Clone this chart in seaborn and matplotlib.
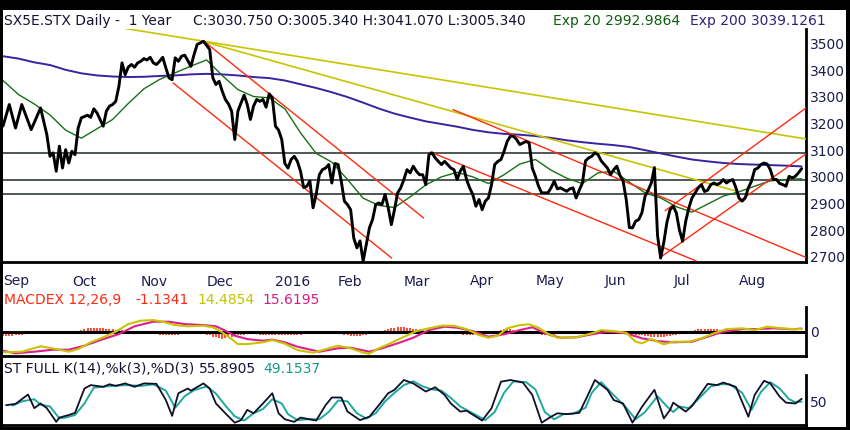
import matplotlib
matplotlib.use("Agg")
import numpy as np
import pandas as pd
import matplotlib.pyplot as plt
import seaborn as sns
from matplotlib.patches import Rectangle

# ------------------------------------------------------------------ data
first_day = "2015-09-01"
last_day = "2016-08-29"
exchange_holidays = ["2015-12-25", "2016-01-01", "2016-03-25", "2016-03-28"]
month_labels = ["Sep", "Oct", "Nov", "Dec", "2016", "Feb", "Mar", "Apr",
                "May", "Jun", "Jul", "Aug"]

# daily close (trading-day index, value)
price_day = [0, 2, 4, 6, 9, 12, 14, 15, 16, 17, 18, 19, 20, 21, 22, 23, 24, 25,
             27, 28, 29, 30, 32, 33, 34, 35, 36, 37, 38, 39, 40, 41, 42, 43, 44,
             45, 46, 47, 48, 49, 50, 51, 52, 53, 54, 55, 56, 57, 58, 59, 60, 61,
             62, 63, 64, 65, 66, 67, 68, 69, 70, 71, 72, 73, 74, 75, 76, 77, 78,
             79, 80, 81, 82, 83, 84, 85, 86, 87, 88, 89] + list(range(90, 256))
price_close = [3190, 3271, 3183, 3271, 3177, 3258, 3158, 3077, 3090, 3021, 3115,
               3033, 3102, 3052, 3096, 3083, 3183, 3221, 3231, 3223, 3255, 3240,
               3190, 3246, 3265, 3271, 3283, 3339, 3427, 3383, 3411, 3421, 3411,
               3427, 3433, 3443, 3438, 3448, 3427, 3421, 3433, 3448, 3408, 3371,
               3364, 3446, 3433, 3452, 3456, 3436, 3414, 3458, 3496, 3502, 3508,
               3493, 3477, 3371, 3346, 3358, 3321, 3290, 3273, 3246, 3140, 3246,
               3277, 3306, 3271, 3215, 3265, 3290, 3283, 3290, 3261, 3311, 3296,
               3190, 3175, 3140,
               3050, 3033, 3065, 3077, 3058, 3021, 2960, 2965, 2984, 2884,
               2934, 3008, 3027, 3033, 3046, 2977, 3050, 3046, 2984, 2909,
               2896, 2877, 2771, 2734, 2760, 2684, 2746, 2809, 2840, 2896,
               2902, 2896, 2934, 2884, 2821, 2877, 2940, 2959, 2990, 3027,
               3015, 3040, 3021, 3008, 3008, 2971, 3083, 3090, 3071, 3058,
               3046, 3058, 3046, 3033, 3027, 2990, 3021, 3040, 2990, 2959,
               2934, 2890, 2915, 2877, 2909, 2921, 2971, 3046, 3058, 3065,
               3096, 3133, 3152, 3152, 3140, 3121, 3127, 3133, 3127, 3033,
               3002, 2965, 2940, 2940, 2940, 2959, 2984, 2955, 2959, 2952,
               2946, 2955, 2959, 2921, 2950, 2977, 3060, 3071, 3077, 3090,
               3083, 3060, 3046, 3033, 3008, 3027, 3040, 3005, 2984, 2915,
               2810, 2809, 2834, 2840, 2865, 2927, 2950, 2977, 3035, 2780,
               2696, 2755, 2830, 2877, 2890, 2865, 2800, 2759, 2834, 2884,
               2921, 2940, 2959, 2971, 2945, 2950, 2971, 2977, 2971, 2977,
               2990, 2977, 2985, 2990, 2960, 2921, 2909, 2921, 2959, 2984,
               3027, 3033, 3046, 3052, 3048, 3027, 2990, 2990, 2975, 2971,
               2965, 3002, 2996, 3002, 3015, 3030.75]

# moving averages read every 5 trading days
ema_day = list(range(0, 256, 5))
ema20 = [3361, 3308, 3273, 3232, 3175, 3145, 3180, 3215, 3275, 3330,
         3365, 3390, 3415, 3438, 3380, 3327, 3301, 3296, 3255, 3165,
         3088, 3055, 2990, 2920, 2893, 2885, 2925, 2970, 3000, 3017,
         3000, 2975, 3008, 3048, 3065, 3025, 2995, 2975, 3015, 3021,
         2980, 2940, 2921, 2888, 2868, 2898, 2928, 2944, 2965, 2985,
         2990, 2992.99]
ema200 = [3452, 3443, 3429, 3419, 3401, 3388, 3380, 3376, 3374, 3375,
          3378, 3380, 3384, 3386, 3384, 3380, 3374, 3370, 3361, 3347,
          3333, 3317, 3299, 3278, 3256, 3237, 3222, 3208, 3198, 3188,
          3176, 3167, 3161, 3158, 3153, 3146, 3137, 3130, 3124, 3119,
          3112, 3100, 3088, 3076, 3065, 3058, 3052, 3048, 3046, 3044,
          3042, 3039.13]

price_ticks = [2700, 2800, 2900, 3000, 3100, 3200, 3300, 3400, 3500]
level_lines = [3090, 2990, 2935]
# trend lines: (day0, value0, day1, value1)
yellow_trends = [(39.0, 3556, 256.4, 3142), (63.5, 3509, 234.0, 2947)]
red_trends = [(54.3, 3352, 124.1, 2696), (64.5, 3505, 134.3, 2846),
              (143.7, 3252, 256.4, 2698), (136.5, 3093, 221.3, 2685),
              (211.4, 2873, 256.4, 3258), (209.6, 2696, 256.4, 3086)]

# MACD (12,26,9)
macd_day = [0, 6, 12, 17, 21, 24, 28, 32, 36, 40, 44, 48, 51, 55, 59, 64, 67, 70,
            73, 75, 78, 83, 86, 90, 94, 99, 102, 107, 111, 115, 117, 120, 123,
            127, 132, 136, 140, 144, 148, 152, 155, 158, 161, 165, 168, 171, 174,
            177, 183, 188, 191, 195, 199, 202, 204, 207, 211, 214, 219, 223, 227,
            231, 236, 240, 244, 249, 253, 255]
macd_line = [-103, -100, -73, -87, -100, -87, -53, -28, 0, 38,
             55, 58, 50, 33, 27, 30, 22, -3, -37, -62,
             -62, -53, -42, -60, -92, -105, -92, -70, -83, -105,
             -110, -83, -63, -33, 3, 17, 30, 30, 13, -17,
             -30, -20, 17, 33, 37, 20, -10, -30, -28, -8,
             8, 3, -5, -50, -58, -37, -63, -50, -50, -33,
             -8, 13, 17, 8, 25, 17, 12, 14.49]
signal_day = [0, 4, 10, 16, 21, 26, 32, 37, 42, 48, 53, 58, 64, 68, 71, 74, 78,
              83, 86, 90, 94, 101, 107, 111, 117, 121, 126, 131, 136, 141, 145,
              150, 155, 160, 165, 169, 172, 175, 178, 183, 188, 193, 199, 204,
              209, 214, 220, 225, 230, 236, 241, 246, 252, 255]
signal_line = [-95, -108, -100, -90, -90, -70, -37, -12, 27, 50,
               50, 38, 33, 27, 5, -20, -37, -45, -40, -53,
               -75, -100, -83, -80, -100, -83, -58, -30, 8, 25,
               20, 3, -25, -13, 8, 22, 0, -18, -30, -28,
               -13, 0, -8, -33, -47, -53, -50, -25, 0, 13,
               13, 17, 12, 15.62]
macd_hist = [-20, -22, -22, -20, -18, -16, -14, -12, -10, -9, -8, -7,
             -6, -6, -7, -8, -8, -7, -6, -5, -4, -3, -1, 2,
             6, 10, 14, 17, 19, 20, 20, 19, 18, 16, 14, 12,
             10, 9, 8, 6, 4, 2, 0, -2, -4, -6, -8, -10,
             -11, -12, -14, -15, -16, -18, -18, -17, -15, -13, -11, -10,
             -9, -8, -8, -10, -12, -14, -18, -24, -28, -32, -34, -32,
             -28, -24, -20, -18, -16, -14, -12, -12, -12, -13, -14, -15,
             -16, -16, -17, -18, -18, -18, -18, -18, -17, -16, -15, -14,
             -12, -10, -8, -4, 0, 4, 6, 6, 4, 2, -2, -6,
             -10, -14, -18, -20, -22, -22, -20, -18, -14, -10, -6, -2,
             2, 6, 10, 14, 18, 20, 22, 22, 22, 20, 18, 16,
             14, 12, 8, 4, 0, -2, -4, -6, -6, -7, -8, -8,
             -9, -10, -12, -14, -15, -16, -16, -15, -14, -12, -10, -6,
             -2, 2, 6, 10, 12, 12, 12, 10, 8, 6, 4, 2,
             0, -4, -8, -12, -15, -16, -16, -15, -14, -13, -12, -10,
             -9, -8, -6, -4, -2, 0, 2, 4, 5, 6, 6, 5,
             4, 3, 2, 0, -2, -4, -6, -8, -10, -12, -14, -16,
             -18, -20, -22, -24, -26, -26, -26, -24, -22, -20, -18, -14,
             -10, -6, -2, 2, 6, 10, 13, 15, 16, 16, 15, 14,
             12, 10, 8, 5, 2, 0, -2, -4, -5, -6, -6, -6,
             -5, -4, -3, -4, -5, -6, -6, -6, -5, -5, -4, -4,
             -3, -3, -2, -1.1341]

# Full stochastic K(14), %k(3), %D(3)
stoch_k_day = [1, 4, 8, 10, 12, 14, 17, 18, 21, 23, 26, 28, 32, 34, 36, 39, 42,
               45, 49, 52, 54, 56, 59, 60, 64, 66, 68, 71, 74, 76, 78, 80, 83,
               86, 88, 90, 93, 95, 100, 103, 105, 108, 110, 114, 117, 120, 123,
               125, 128, 131, 135, 138, 141, 143, 146, 148, 153, 156, 159, 162,
               166, 169, 172, 175, 177, 180, 184, 186, 189, 193, 195, 198, 201,
               204, 208, 211, 213, 214, 218, 220, 225, 228, 230, 234, 238, 240,
               243, 245, 248, 250, 253, 255]
stoch_k = [41, 44, 66, 34, 45, 34, 2, 12, 18, 23, 80, 88, 84, 90, 86, 92, 84,
           92, 91, 53, 16, 69, 80, 75, 92, 80, 45, 22, 0, 6, 30, 22, 45, 69, 22,
           8, 2, 12, 5, 41, 59, 59, 26, 6, 14, 41, 69, 77, 100, 92, 73, 83, 65,
           45, 26, 28, 5, 34, 96, 100, 94, 65, 0, 14, 22, 20, 23, 53, 100, 77,
           53, 45, 0, 37, 77, 10, 30, 47, 26, 39, 91, 88, 94, 84, 14, 65, 98,
           92, 61, 47, 45, 55.8905]
stoch_d_day = [3, 6, 10, 12, 15, 18, 20, 23, 26, 29, 33, 36, 40, 44, 48, 52, 55,
               58, 61, 65, 68, 71, 74, 77, 80, 83, 86, 89, 91, 94, 97, 101, 104,
               107, 110, 113, 116, 119, 122, 125, 128, 131, 134, 137, 140, 143,
               146, 149, 152, 154, 157, 160, 163, 167, 170, 173, 176, 179, 182,
               186, 188, 191, 194, 197, 199, 202, 205, 209, 212, 214, 216, 219,
               222, 226, 229, 232, 236, 239, 242, 245, 248, 251, 253, 255]
stoch_d = [40, 50, 55, 42, 38, 10, 12, 18, 45, 82, 85, 87, 88, 86, 90, 75, 35,
           62, 76, 85, 68, 40, 15, 5, 22, 32, 55, 45, 20, 6, 8, 8, 25, 52, 50,
           22, 10, 22, 50, 70, 88, 97, 85, 78, 75, 58, 38, 26, 14, 6, 25, 70,
           97, 95, 78, 25, 8, 20, 21, 35, 70, 95, 72, 50, 35, 8, 25, 62, 38, 25,
           38, 34, 55, 85, 90, 90, 70, 30, 72, 95, 80, 55, 48, 49.1537]

# ------------------------------------------------------------------ calendar
sessions = pd.bdate_range(first_day, last_day)
sessions = sessions[~sessions.isin(pd.to_datetime(exchange_holidays))]
month_start = [0] + [i for i in range(1, len(sessions))
                     if sessions[i].month != sessions[i - 1].month]
n_days = len(sessions)

# ------------------------------------------------------------------ style
sns.set_style("white")
plt.rcParams['font.family'] = ['DejaVu Sans']
W, H = 850, 430
LABEL = '#1c1c50'
GREEN = '#167016'
PURPLE = '#3a22a0'
YEL = '#c9c400'
RED = '#ff2a10'
MAG = '#dc1f8c'
TEAL = '#1fa89c'


def fx(x):
    return x / W


def fy(y):
    return 1 - y / H


fig = plt.figure(figsize=(W / 100, H / 100), dpi=100)
fig.patch.set_facecolor('black')
fig.add_artist(Rectangle((fx(3), fy(427)), fx(846) - fx(3), fy(10) - fy(427),
                         transform=fig.transFigure, facecolor='white',
                         edgecolor='none', zorder=0))

XL = (0, 256.4)


def make_ax(top, bottom):
    ax = fig.add_axes([fx(3), fy(bottom), fx(806) - fx(3), fy(top) - fy(bottom)])
    ax.set_facecolor('none')
    for s in ('top', 'left'):
        ax.spines[s].set_visible(False)
    for s in ('right', 'bottom'):
        ax.spines[s].set_visible(True)
        ax.spines[s].set_color('black')
        ax.spines[s].set_linewidth(2.0)
    ax.yaxis.tick_right()
    ax.tick_params(axis='y', length=0, pad=3, labelsize=10, labelcolor=LABEL)
    ax.set_xlim(*XL)
    return ax


# ---------------------------------------------------------------- main panel
ax = make_ax(29, 262)
for lv in level_lines:
    ax.axhline(lv, color='#1e2a22', lw=1.1, zorder=1)
sns.lineplot(x=ema_day, y=ema200, ax=ax, color=PURPLE, lw=1.4,
             estimator=None, sort=False, zorder=2)
sns.lineplot(x=ema_day, y=ema20, ax=ax, color=GREEN, lw=1.0,
             estimator=None, sort=False, zorder=3)
for d0, v0, d1, v1 in yellow_trends:
    sns.lineplot(x=[d0, d1], y=[v0, v1], ax=ax, color=YEL, lw=1.2,
                 estimator=None, sort=False, zorder=4)
for d0, v0, d1, v1 in red_trends:
    sns.lineplot(x=[d0, d1], y=[v0, v1], ax=ax, color=RED, lw=1.0,
                 estimator=None, sort=False, zorder=4)
sns.lineplot(x=price_day, y=price_close, ax=ax, color='black', lw=2.1,
             estimator=None, sort=False, zorder=5)
ax.set_ylim(2681, 3554)
ax.set_yticks(price_ticks)
ax.set_xticks(month_start)
ax.set_xticklabels(month_labels)
ax.tick_params(axis='x', direction='out', length=5.5, width=1.5, color='black',
               pad=3.5, labelsize=10, labelcolor=LABEL)
for lab in ax.get_xticklabels():
    lab.set_ha('left')
ax.set_xlim(*XL)
ax.set_xlabel('')
ax.set_ylabel('')

# ---------------------------------------------------------------- MACD panel
am = make_ax(307, 356)
am.vlines(list(range(n_days)), 0, macd_hist, color='#ff3c1e', lw=1.3, zorder=1)
am.axhline(0, color='black', lw=2.2, zorder=2)
sns.lineplot(x=signal_day, y=signal_line, ax=am, color=MAG, lw=1.5,
             estimator=None, sort=False, zorder=3)
sns.lineplot(x=macd_day, y=macd_line, ax=am, color=YEL, lw=1.5,
             estimator=None, sort=False, zorder=4)
am.set_ylim(-121.5, 123.5)
am.set_yticks([0])
am.set_xticks([])
am.set_xlim(*XL)
am.set_xlabel('')
am.set_ylabel('')

# ---------------------------------------------------------- stochastic panel
ast = make_ax(375, 425)
sns.lineplot(x=stoch_d_day, y=stoch_d, ax=ast, color=TEAL, lw=1.4,
             estimator=None, sort=False, zorder=3)
sns.lineplot(x=stoch_k_day, y=stoch_k, ax=ast, color='#101028', lw=1.3,
             estimator=None, sort=False, zorder=4)
ast.set_ylim(-5.4, 111.7)
ast.set_yticks([50])
ast.set_xticks([])
ast.set_xlim(*XL)
ast.set_xlabel('')
ast.set_ylabel('')

# ---------------------------------------------------------------- headers
def t(x, y, s, c):
    fig.text(fx(x), fy(y), s, color=c, fontsize=10, ha='left', va='baseline')


t(4, 25, "SX5E.STX Daily -  1 Year", '#141432')
t(193, 25, "C:3030.750 O:3005.340 H:3041.070 L:3005.340", '#141432')
t(553, 25, "Exp 20 2992.9864", '#0e5e0e')
t(690, 25, "Exp 200 3039.1261", '#33207a')

t(4, 304, "MACDEX 12,26,9", RED)
t(135, 304, "-1.1341", RED)
t(197, 304, "14.4854", '#c3c300')
t(262, 304, "15.6195", '#d01f88')

t(4, 373, "ST FULL K(14),%k(3),%D(3)", '#141432')
t(199, 373, "55.8905", '#141432')
t(263, 373, "49.1537", '#1a9a8a')

fig.savefig("out.png", dpi=100, facecolor=fig.get_facecolor())
